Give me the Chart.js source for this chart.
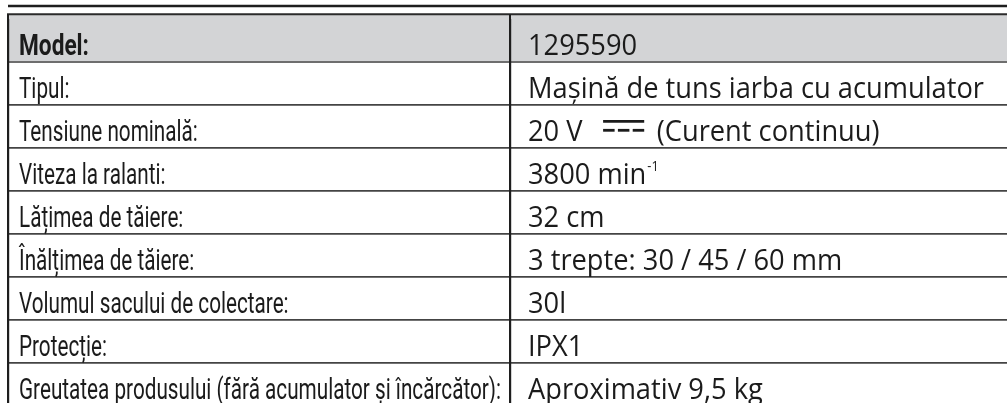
<!DOCTYPE html>
<html><head><meta charset="utf-8">
<script src="https://cdn.jsdelivr.net/npm/chart.js@4.4.1/dist/chart.umd.min.js"></script>
<style>
html,body{margin:0;padding:0;background:#fff;overflow:hidden;width:1007px;height:403px}
#wrap{width:1015px;height:412px}
canvas{display:block}
</style></head><body><div id="wrap"><canvas id="c" width="1015" height="412"></canvas></div>
<script>
// ---- data ----
const rowLabels = [
  'Model:',
  'Tipul:',
  'Tensiune nominală:',
  'Viteza la ralanti:',
  'Lățimea de tăiere:',
  'Înălțimea de tăiere:',
  'Volumul sacului de colectare:',
  'Protecție:',
  'Greutatea produsului (fără acumulator și încărcător):'
];
const rowValues = [
  '1295590',
  'Mașină de tuns iarba cu acumulator',
  '20 V ⎓ (Curent continuu)',
  '3800 min⁻¹',
  '32 cm',
  '3 trepte: 30 / 45 / 60 mm',
  '30l',
  'IPX1',
  'Aproximativ 9,5 kg'
];
const columnNames = ['Parametru', 'Valoare'];
const headerRowIndex = 0;

// ---- styles ----
const INK = '#1b1b1b';
const HEADER_FILL = '#d3d4d6';
const LABEL_FONT = 'Roboto';
const VALUE_FONT = '"Open Sans"';
const LABEL_SIZE = 30, VALUE_SIZE = 30;

const supMap = {'⁻':'-','¹':'1','²':'2','³':'3','⁰':'0'};

function fitScale(ctx, font, text, target){
  ctx.save(); ctx.font = font; const w = ctx.measureText(text).width; ctx.restore();
  return target / w;
}
function drawScaled(ctx, text, x, y, font, sx){
  ctx.save(); ctx.font = font;
  const w = ctx.measureText(text).width * sx;
  ctx.translate(x, y); ctx.scale(sx, 1); ctx.fillText(text, 0, 0);
  ctx.restore();
  return w;
}

const tablePlugin = {
  id: 'specTable',
  beforeDraw(chart){
    const {ctx, chartArea, scales:{x, y}} = chart;
    const rowH = y.getPixelForValue(1) - y.getPixelForValue(0);
    const top = chartArea.top - 4.7;
    ctx.save();
    ctx.fillStyle = HEADER_FILL;
    const hb = y.getPixelForValue(headerRowIndex) + rowH/2;
    ctx.fillRect(chartArea.left, top, chartArea.right - chartArea.left, hb - top);
    ctx.strokeStyle = '#1e1e1e'; ctx.lineWidth = 2.4;
    ctx.beginPath(); ctx.moveTo(chartArea.left, top - 8.3); ctx.lineTo(chartArea.right, top - 8.3); ctx.stroke();
    ctx.strokeStyle = '#2b2b2b'; ctx.lineWidth = 2;
    ctx.beginPath(); ctx.moveTo(chartArea.left - 1, top); ctx.lineTo(chartArea.right, top); ctx.stroke();
    ctx.strokeStyle = '#1e1e1e'; ctx.lineWidth = 2;
    [0,1].forEach(v => {
      const px = Math.round(x.getPixelForValue(v));
      ctx.beginPath(); ctx.moveTo(px, top); ctx.lineTo(px, chartArea.top + 1); ctx.stroke();
    });
    ctx.restore();
  },
  afterDraw(chart){
    const {ctx, scales:{x, y}} = chart;
    const rowH = y.getPixelForValue(1) - y.getPixelForValue(0);
    const lf = LABEL_SIZE + 'px ' + LABEL_FONT;
    const lfb = 'bold ' + LABEL_SIZE + 'px ' + LABEL_FONT;
    const vf = VALUE_SIZE + 'px ' + VALUE_FONT;
    const sxL = fitScale(ctx, lf, rowLabels[rowLabels.length-1], 482);
    const sxB = fitScale(ctx, lfb, rowLabels[0], 70);
    const sxV = fitScale(ctx, vf, rowValues[1], 456);
    const lx = x.getPixelForValue(0) + 11;
    const vx = x.getPixelForValue(1) + 18;
    ctx.save();
    ctx.fillStyle = INK; ctx.strokeStyle = INK;
    ctx.textBaseline = 'alphabetic';
    rowLabels.forEach((lab, i) => {
      const bottom = y.getPixelForValue(i) + rowH/2;
      const base = bottom - 7.5;
      if (i === headerRowIndex) drawScaled(ctx, lab, lx, base, lfb, sxB);
      else drawScaled(ctx, lab, lx, base, lf, sxL);
      const val = rowValues[i];
      let cx = vx;
      const vbase = bottom - 7.2;
      let buf = '';
      const flush = () => { if (buf) { cx += drawScaled(ctx, buf, cx, vbase, vf, sxV); buf=''; } };
      for (const ch of val) {
        if (ch === '⎓') {
          flush();
          const fs = VALUE_SIZE;
          cx += fs*0.45;
          const w = fs*1.37;
          ctx.lineWidth = 2.8;
          ctx.beginPath(); ctx.moveTo(cx, vbase - 19.5); ctx.lineTo(cx + w, vbase - 19.5); ctx.stroke();
          const dw = w*0.28, gap = (w - 3*dw)/2;
          for (let k=0;k<3;k++){
            const sx0 = cx + k*(dw+gap);
            ctx.beginPath(); ctx.moveTo(sx0, vbase - 10.5); ctx.lineTo(sx0 + dw, vbase - 10.5); ctx.stroke();
          }
          cx += w + fs*0.18;
        } else if (supMap[ch] !== undefined) {
          flush();
          cx += drawScaled(ctx, supMap[ch], cx + 1, vbase - 12.5, '15px ' + VALUE_FONT, 0.85);
        } else buf += ch;
      }
      flush();
    });
    ctx.restore();
  }
};

new Chart(document.getElementById('c'), {
  type: 'bar',
  data: { labels: rowLabels, datasets: [] },
  options: {
    responsive: false, animation: false, devicePixelRatio: 1,
    indexAxis: 'y',
    layout: { padding: { top: 19, left: 8, right: 3, bottom: 6 } },
    plugins: { legend: { display: false }, tooltip: { enabled: false } },
    scales: {
      y: {
        type: 'category', offset: true,
        ticks: { display: false },
        border: { display: false },
        grid: {
          offset: true, drawTicks: false,
          color: c => c.index === 0 ? 'rgba(0,0,0,0)' : (c.index === 1 ? '#6e6e6e' : '#444444'),
          lineWidth: c => c.index === 1 ? 2 : 1.7
        },
        afterFit: s => { s.width = 0; }
      },
      x: {
        type: 'linear', min: 0, max: columnNames.length,
        ticks: { display: false, stepSize: 1 },
        border: { display: false },
        grid: {
          drawTicks: false,
          color: c => c.index >= columnNames.length ? 'rgba(0,0,0,0)' : '#1e1e1e',
          lineWidth: 2.2
        },
        afterFit: s => { s.height = 0; }
      }
    }
  },
  plugins: [tablePlugin]
});
</script>
</body></html>
